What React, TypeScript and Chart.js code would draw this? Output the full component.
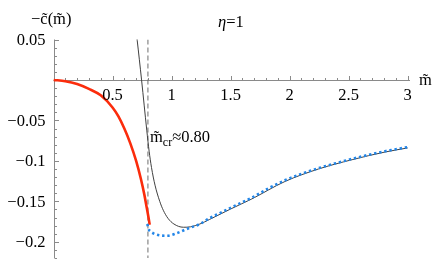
import React, { useEffect, useRef } from "react";
import { Chart, registerables } from "chart.js";

Chart.register(...registerables);

// ---- data ----
const redX = [0, 0.1, 0.2, 0.3, 0.4, 0.5, 0.55, 0.6, 0.65, 0.7, 0.74, 0.77, 0.79, 0.805, 0.815];
const redY = [0, -0.0015, -0.005, -0.011, -0.019, -0.034, -0.045, -0.06, -0.078, -0.1, -0.122, -0.142, -0.158, -0.17, -0.179];

const blueX = [0.795, 0.803, 0.82, 0.846, 0.9, 0.96, 1.04, 1.14, 1.24, 1.32, 1.41, 1.5, 1.6, 1.68, 1.82, 1.96, 2.1, 2.245, 2.39, 2.53, 2.67, 2.81, 3.0];
const blueY = [-0.178, -0.1835, -0.187, -0.1895, -0.192, -0.1925, -0.1895, -0.1835, -0.178, -0.171, -0.1645, -0.158, -0.151, -0.1455, -0.134, -0.124, -0.116, -0.109, -0.103, -0.0975, -0.0925, -0.088, -0.083];

const blackX = [0.7, 0.709, 0.746, 0.79, 0.81, 0.83, 0.86, 0.9, 0.93, 0.97, 1.02, 1.1, 1.16, 1.24, 1.32, 1.41, 1.5, 1.68, 1.96, 2.245, 2.53, 2.81, 3.0];
const blackY = [0.06, 0.049, 0, -0.062, -0.088, -0.108, -0.13, -0.15, -0.161, -0.171, -0.178, -0.182, -0.1815, -0.178, -0.1725, -0.166, -0.1595, -0.147, -0.1255, -0.11, -0.0985, -0.089, -0.084];

const mCritical = 0.8;

const xTickValues = [0.5, 1, 1.5, 2, 2.5, 3];
const xTickLabels = ["0.5", "1", "1.5", "2", "2.5", "3"];
const yTickValues = [0.05, -0.05, -0.1, -0.15, -0.2];
const yTickLabels = ["0.05", "\u22120.05", "\u22120.1", "\u22120.15", "\u22120.2"];

const X_MIN = 0, X_MAX = 3.02, Y_MIN = -0.22, Y_MAX = 0.05;

const toPts = (xs: number[], ys: number[]) => xs.map((x, i) => ({ x, y: ys[i] }));

const SERIF = '"Liberation Serif", "DejaVu Serif", serif';
const FS = 16.5;

const axesPlugin = {
  id: "mmaAxes",
  beforeDatasetsDraw(chart: any) {
    const { ctx, scales } = chart;
    const xs = scales.x, ys = scales.y;
    const x0 = Math.round(xs.getPixelForValue(0)) + 0.5;
    const y0 = Math.round(ys.getPixelForValue(0)) + 0.5;
    ctx.save();
    ctx.strokeStyle = "#8a8a8a";
    ctx.lineWidth = 1;
    ctx.beginPath();
    ctx.moveTo(xs.left, y0);
    ctx.lineTo(xs.right, y0);
    ctx.moveTo(x0, ys.top);
    ctx.lineTo(x0, ys.bottom);
    // x ticks (pointing up)
    for (let k = 1; k <= 30; k++) {
      const v = k / 10;
      const major = k % 5 === 0;
      const px = Math.round(xs.getPixelForValue(v)) + 0.5;
      ctx.moveTo(px, y0);
      ctx.lineTo(px, y0 - (major ? 4.5 : 2.5));
    }
    // y ticks (pointing right)
    for (let k = -22; k <= 5; k++) {
      if (k === 0) continue;
      const v = k / 100;
      const major = k % 5 === 0;
      const py = Math.round(ys.getPixelForValue(v)) + 0.5;
      ctx.moveTo(x0, py);
      ctx.lineTo(x0 + (major ? 4.5 : 2.5), py);
    }
    ctx.stroke();
    ctx.restore();
  },
  afterDraw(chart: any) {
    const { ctx, scales } = chart;
    const xs = scales.x, ys = scales.y;
    const x0 = xs.getPixelForValue(0);
    const y0 = ys.getPixelForValue(0);
    ctx.save();
    ctx.fillStyle = "#000";
    ctx.font = `${FS}px ${SERIF}`;
    ctx.textBaseline = "alphabetic";
    ctx.textAlign = "center";
    xTickValues.forEach((v, i) => {
      ctx.fillText(xTickLabels[i], xs.getPixelForValue(v), y0 + 20);
    });
    ctx.textAlign = "right";
    yTickValues.forEach((v, i) => {
      ctx.fillText(yTickLabels[i], x0 - 8, ys.getPixelForValue(v) + 5.5);
    });
    ctx.textAlign = "left";
    // axis labels
    ctx.fillText("\u2212c\u0303(m\u0303)", 31, 24);
    ctx.fillText("m\u0303", 419, 85);
    // eta label
    ctx.font = `italic ${FS}px ${SERIF}`;
    ctx.fillText("\u03b7", 218, 27);
    const ew = ctx.measureText("\u03b7").width;
    ctx.font = `${FS}px ${SERIF}`;
    ctx.fillText("=1", 218 + ew, 27);
    // critical mass label
    const lx = 150, lb = 142;
    ctx.fillText("m\u0303", lx, lb);
    const mw = ctx.measureText("m").width;
    ctx.font = `12px ${SERIF}`;
    ctx.fillText("cr", lx + mw, lb + 4);
    const cw = ctx.measureText("cr").width;
    ctx.font = `${FS}px ${SERIF}`;
    ctx.fillText("\u22480.80", lx + mw + cw, lb);
    ctx.restore();
  },
};

export default function App() {
  const ref = useRef<HTMLCanvasElement | null>(null);
  useEffect(() => {
    document.body.style.margin = "0";
    const canvas = ref.current;
    if (!canvas) return;
    const chart = new Chart(canvas, {
      type: "scatter",
      data: {
        datasets: [
          {
            data: [
              { x: mCritical, y: Y_MAX },
              { x: mCritical, y: Y_MIN },
            ],
            showLine: true,
            borderColor: "#6e6e6e",
            borderWidth: 1,
            borderDash: [5, 3],
            pointRadius: 0,
            order: 4,
          },
          {
            data: toPts(blackX, blackY),
            showLine: true,
            borderColor: "#404040",
            borderWidth: 1,
            pointRadius: 0,
            cubicInterpolationMode: "monotone",
            order: 3,
          },
          {
            data: toPts(redX, redY),
            showLine: true,
            borderColor: "#fb2c0c",
            borderWidth: 2.6,
            pointRadius: 0,
            cubicInterpolationMode: "monotone",
            order: 2,
          },
          {
            data: toPts(blueX, blueY),
            showLine: true,
            borderColor: "#2386e8",
            borderWidth: 2.6,
            borderDash: [2.4, 2.8],
            borderCapStyle: "butt",
            pointRadius: 0,
            cubicInterpolationMode: "monotone",
            order: 1,
          },
        ],
      },
      options: {
        animation: false,
        responsive: false,
        devicePixelRatio: 1,
        layout: { padding: { left: 53.5, right: 26, top: 39.5, bottom: 11 } },
        plugins: { legend: { display: false }, tooltip: { enabled: false } },
        scales: {
          x: { type: "linear", min: X_MIN, max: X_MAX, display: false },
          y: { type: "linear", min: Y_MIN, max: Y_MAX, display: false },
        },
      },
      plugins: [axesPlugin],
    });
    return () => chart.destroy();
  }, []);
  return (
    <div style={{ position: "fixed", left: 0, top: 0, width: 436, height: 269, background: "#fff" }}>
      <canvas ref={ref} width={436} height={269} style={{ display: "block" }} />
    </div>
  );
}
